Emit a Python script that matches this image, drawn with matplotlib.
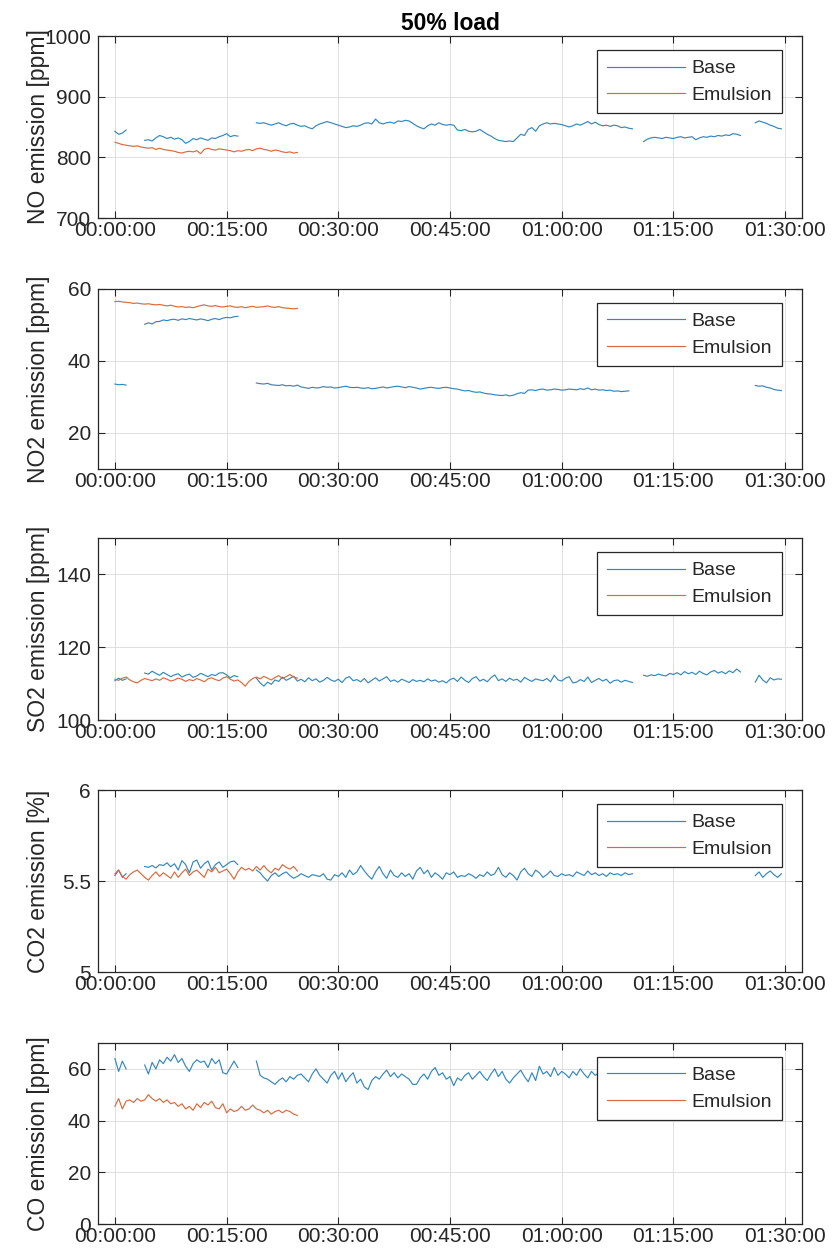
import numpy as np
import matplotlib
matplotlib.use("Agg")
import matplotlib.pyplot as plt

plt.rcParams['font.family'] = ['Liberation Sans', 'DejaVu Sans']

# time step of the logged data, minutes
DT = 0.5

# tick positions (minutes) and labels
xticks = [0, 15, 30, 45, 60, 75, 90]
xlabels = ['00:00:00', '00:15:00', '00:30:00', '00:45:00', '01:00:00', '01:15:00', '01:30:00']

# ---- NO [ppm] ----
no_base = [
    (0.0, [843, 838, 840, 845]),
    (4.0, [828, 829, 827, 832, 836, 834, 831, 833, 830, 832, 829, 823, 826, 831, 829, 832,
           830, 828, 832, 831, 834, 836, 839, 834, 836, 835]),
    (19.0, [857, 856, 857, 855, 853, 855, 857, 854, 852, 855, 856, 853, 851, 852, 849, 847,
            852, 855, 857, 859, 857, 855, 853, 851, 849, 850, 852, 851, 853, 856, 857, 855,
            863, 857, 855, 857, 858, 856, 860, 859, 861, 860, 856, 852, 849, 847, 852, 855,
            853, 857, 854, 853, 854, 853, 845, 844, 846, 843, 842, 843, 846, 842, 838, 835,
            831, 828, 827, 826, 827, 826, 832, 838, 836, 846, 849, 843, 852, 855, 857, 855,
            856, 855, 854, 852, 850, 852, 855, 853, 856, 859, 855, 858, 854, 852, 853, 851,
            853, 852, 849, 850, 848, 847]),
    (71.0, [826, 830, 832, 833, 832, 831, 833, 832, 831, 833, 834, 832, 833, 834, 829, 832,
            834, 833, 835, 834, 836, 835, 837, 836, 839, 838, 836]),
    (86.0, [857, 860, 858, 856, 853, 851, 848, 847]),
]
no_emul = [
    (0.0, [825, 823, 821, 820, 819, 818, 819, 817, 816, 815, 816, 813, 815, 813, 812, 811,
           810, 808, 807, 809, 810, 809, 811, 806, 813, 815, 813, 812, 814, 813, 812, 811,
           809, 811, 810, 812, 813, 811, 814, 815, 813, 812, 810, 812, 811, 809, 808, 809,
           807, 808]),
]

# ---- NO2 [ppm] ----
no2_base = [
    (0.0, [33.6, 33.4, 33.5, 33.3]),
    (4.0, [50.2, 50.6, 50.3, 50.9, 51.0, 51.4, 51.2, 51.5, 51.6, 51.3, 51.7, 51.5, 51.8,
           51.6, 51.4, 51.7, 51.5, 51.2, 51.6, 51.8, 51.5, 51.9, 52.1, 52.0, 52.3, 52.4]),
    (19.0, [33.9, 33.7, 33.6, 33.8, 33.4, 33.3, 33.2, 33.4, 33.1, 33.2, 33.0, 33.3, 32.8,
            32.6, 32.4, 32.7, 32.5, 32.6, 32.9, 32.7, 32.8, 32.5, 32.6, 32.8, 33.0, 32.7,
            32.6, 32.7, 32.5, 32.4, 32.6, 32.3, 32.4, 32.6, 32.8, 32.5, 32.7, 32.9, 33.0,
            32.8, 32.6, 32.9, 32.7, 32.5, 32.2, 32.4, 32.6, 32.7, 32.5, 32.4, 32.6, 32.7,
            32.5, 32.3, 32.2, 31.9, 31.7, 31.8, 31.5, 31.3, 31.4, 31.1, 30.9, 30.8, 30.6,
            30.5, 30.4, 30.6, 30.3, 30.5, 30.9, 31.2, 31.0, 31.9, 32.0, 31.8, 32.1, 32.2,
            31.9, 32.0, 32.2, 32.1, 31.9, 32.0, 32.2, 32.1, 32.0, 32.3, 32.1, 32.5, 32.0,
            32.2, 31.9, 32.0, 31.8, 31.9, 31.6, 31.7, 31.5, 31.6, 31.7]),
    (86.0, [33.2, 33.0, 33.1, 32.7, 32.5, 32.1, 31.9, 31.8]),
]
no2_emul = [
    (0.0, [56.5, 56.6, 56.4, 56.3, 56.2, 56.0, 56.1, 55.9, 55.8, 55.9, 55.7, 55.6, 55.7,
           55.5, 55.3, 55.5, 55.2, 55.0, 55.1, 54.9, 55.0, 54.8, 55.1, 55.4, 55.6, 55.3,
           55.2, 55.4, 55.1, 55.0, 55.2, 55.3, 55.0, 54.9, 55.1, 54.8, 55.0, 55.2, 54.9,
           55.0, 55.1, 55.3, 55.0, 54.9, 55.1, 54.8, 54.7, 54.6, 54.5, 54.6]),
]

# ---- SO2 [ppm] ----
so2_base = [
    (0.0, [110.8, 111.5, 110.9, 111.3]),
    (4.0, [112.9, 112.6, 113.4, 112.8, 112.3, 113.1, 112.5, 111.9, 112.4, 112.7, 111.8,
           112.3, 112.6, 111.7, 112.1, 112.8, 112.4, 111.9, 112.5, 112.2, 112.9, 113.0,
           112.4, 111.6, 112.2, 111.9]),
    (19.0, [111.5, 110.2, 109.3, 110.4, 109.8, 111.0, 110.6, 111.8, 110.9, 111.4, 112.0,
            110.7, 111.2, 110.5, 111.6, 110.8, 111.3, 110.4, 110.9, 111.7, 111.0, 110.6,
            111.2, 110.3, 111.5, 111.9, 110.8, 111.1, 110.5, 111.4, 110.2, 110.9, 111.6,
            110.7, 111.3, 111.9, 110.6, 111.0, 110.4, 111.2, 110.8, 110.3, 111.1, 110.6,
            110.9, 110.5, 111.3, 110.7, 111.0, 110.4, 110.8, 110.2, 111.1, 111.5, 110.6,
            111.8, 110.9, 110.3, 111.4, 111.9, 110.7, 111.2, 110.5, 111.6, 112.4, 110.8,
            111.3, 110.6, 111.5, 110.9, 111.2, 110.4, 111.7, 111.1, 110.6, 111.3, 111.0,
            110.8, 111.4, 110.5, 112.3, 111.0, 110.7, 111.5, 111.9, 110.2, 110.4, 111.1,
            110.6, 111.8, 110.3, 110.9, 111.4, 110.7, 111.2, 110.1, 110.8, 111.0, 110.4,
            110.9, 110.6, 110.3]),
    (71.0, [112.3, 112.0, 112.4, 112.2, 112.6, 112.3, 112.1, 112.8, 112.5, 113.0, 112.4,
            113.3, 112.7, 113.1, 112.5, 113.4, 112.8, 112.4, 113.2, 113.6, 112.9, 113.3,
            112.7, 113.5, 113.0, 114.0, 113.2]),
    (86.0, [110.4, 112.3, 111.0, 110.2, 111.6, 111.0, 111.3, 111.2]),
]
so2_emul = [
    (0.0, [111.2, 110.9, 111.5, 111.8, 111.0, 110.5, 110.2, 110.9, 111.4, 111.1, 110.8,
           111.3, 110.9, 111.6, 111.2, 110.7, 111.0, 111.5, 111.2, 110.6, 111.1, 110.8,
           111.4, 111.0, 110.5, 111.3, 111.6, 111.1, 110.8, 111.5, 111.9, 111.2, 110.7,
           111.0, 110.3, 109.3, 110.6, 111.4, 111.8, 111.3, 112.0, 111.5, 111.0, 111.7,
           112.2, 111.4, 111.9, 112.5, 111.8, 111.5]),
]

# ---- CO2 [%] ----
co2_base = [
    (0.0, [5.53, 5.56, 5.52, 5.54]),
    (4.0, [5.580, 5.575, 5.585, 5.572, 5.590, 5.585, 5.600, 5.578, 5.595, 5.560, 5.612,
           5.590, 5.545, 5.605, 5.615, 5.570, 5.595, 5.610, 5.560, 5.590, 5.605, 5.575,
           5.590, 5.605, 5.610, 5.590]),
    (19.0, [5.560, 5.545, 5.520, 5.500, 5.530, 5.545, 5.525, 5.540, 5.550, 5.530, 5.515,
            5.525, 5.540, 5.530, 5.520, 5.535, 5.530, 5.525, 5.540, 5.510, 5.505, 5.535,
            5.525, 5.545, 5.520, 5.560, 5.535, 5.550, 5.585, 5.555, 5.530, 5.510, 5.550,
            5.580, 5.540, 5.515, 5.560, 5.530, 5.520, 5.545, 5.525, 5.540, 5.510, 5.555,
            5.575, 5.540, 5.560, 5.520, 5.545, 5.530, 5.510, 5.545, 5.535, 5.550, 5.520,
            5.530, 5.525, 5.540, 5.530, 5.515, 5.535, 5.525, 5.550, 5.530, 5.540, 5.575,
            5.535, 5.520, 5.545, 5.530, 5.505, 5.550, 5.570, 5.540, 5.525, 5.560, 5.545,
            5.520, 5.535, 5.555, 5.530, 5.525, 5.540, 5.530, 5.535, 5.525, 5.550, 5.540,
            5.530, 5.555, 5.535, 5.545, 5.530, 5.540, 5.525, 5.545, 5.535, 5.540, 5.530,
            5.545, 5.535, 5.540]),
    (86.0, [5.53, 5.55, 5.52, 5.54, 5.555, 5.535, 5.52, 5.54]),
]
co2_emul = [
    (0.0, [5.540, 5.560, 5.525, 5.510, 5.535, 5.550, 5.560, 5.540, 5.520, 5.505, 5.530,
           5.550, 5.525, 5.545, 5.530, 5.515, 5.550, 5.520, 5.545, 5.565, 5.530, 5.550,
           5.560, 5.540, 5.520, 5.565, 5.550, 5.575, 5.545, 5.555, 5.565, 5.540, 5.510,
           5.550, 5.575, 5.560, 5.570, 5.555, 5.580, 5.560, 5.585, 5.560, 5.545, 5.570,
           5.560, 5.590, 5.575, 5.565, 5.580, 5.555]),
]

# ---- CO [ppm] ----
co_base = [
    (0.0, [64.0, 59.0, 63.0, 60.0]),
    (4.0, [61.5, 58.0, 62.5, 60.0, 63.5, 62.0, 64.5, 63.0, 65.5, 62.5, 64.0, 61.0, 59.0,
           62.0, 63.5, 62.5, 63.0, 60.5, 64.0, 62.0, 63.5, 58.5, 58.0, 60.5, 63.0, 60.5]),
    (19.0, [63.0, 57.5, 56.5, 56.0, 55.0, 54.0, 55.5, 56.5, 55.0, 57.0, 56.0, 57.5, 58.0,
            56.5, 55.0, 58.0, 60.0, 57.5, 56.0, 54.5, 57.5, 59.0, 56.0, 58.5, 55.0, 57.0,
            58.5, 54.5, 56.0, 53.0, 52.0, 55.5, 57.0, 56.0, 58.0, 59.5, 57.0, 58.5, 56.5,
            58.0, 57.0, 56.0, 54.0, 54.0, 56.5, 58.0, 56.0, 59.0, 60.5, 57.5, 58.5, 56.0,
            57.0, 53.5, 56.5, 55.5, 57.5, 58.5, 56.0, 57.5, 59.0, 57.0, 55.5, 58.0, 60.0,
            57.0, 59.0, 56.0, 54.5, 56.5, 58.0, 59.5, 57.0, 55.0, 58.5, 55.5, 61.0, 58.0,
            59.0, 57.0, 60.5, 57.5, 59.0, 58.0, 56.5, 59.0, 57.5, 60.0, 58.0, 56.5, 59.0,
            57.5, 58.5, 57.0, 59.5, 58.0, 57.0, 58.5, 57.5, 58.0, 57.0, 58.5]),
    (71.0, [57.5, 58.5, 57.0, 58.0, 59.0, 57.5, 58.0, 57.0, 58.5, 59.0, 57.5, 58.0, 58.5,
            57.0, 58.0, 59.0, 58.5, 57.5, 58.0, 58.5, 57.5, 59.0, 58.0, 57.5, 58.5, 58.0,
            57.5]),
    (86.0, [58.0, 59.0, 57.5, 58.5, 58.0, 59.5, 58.0, 58.5]),
]
co_emul = [
    (0.0, [45.5, 48.5, 44.5, 47.5, 48.0, 47.0, 48.5, 47.5, 48.0, 50.0, 48.5, 47.5, 48.5,
           47.0, 48.0, 46.5, 47.0, 45.5, 46.5, 44.5, 45.5, 44.0, 46.5, 45.0, 47.0, 46.0,
           47.5, 45.0, 44.5, 46.5, 43.0, 44.5, 43.5, 44.0, 45.5, 44.0, 44.5, 46.0, 44.5,
           44.0, 43.0, 44.0, 42.5, 43.5, 44.0, 43.0, 44.0, 43.5, 42.5, 42.0]),
]

ylabels = ['NO emission [ppm]', 'NO2 emission [ppm]', 'SO2 emission [ppm]',
           'CO2 emission [%]', 'CO emission [ppm]']
ylims = [(700, 1000), (10, 60), (100, 150), (5, 6), (0, 70)]
yticks = [[700, 800, 900, 1000], [20, 40, 60], [100, 120, 140], [5, 5.5, 6], [0, 20, 40, 60]]
series = [(no_base, no_emul), (no2_base, no2_emul), (so2_base, so2_emul),
          (co2_base, co2_emul), (co_base, co_emul)]

BLUE = '#3387c0'
ORANGE = '#d96a3c'
TXT = '#262626'


def join_segments(segs):
    """Concatenate logged segments, NaN between them so the line breaks."""
    ts, ys = [], []
    for start, vals in segs:
        ts.extend(start + DT * np.arange(len(vals)))
        ys.extend(vals)
        ts.append(np.nan)
        ys.append(np.nan)
    return np.array(ts), np.array(ys)


W, H = 832, 1258
fig = plt.figure(figsize=(W / 100, H / 100), dpi=100)

# axes boxes in pixels: (top, bottom)
boxes = [(36, 218), (289, 469), (538, 720), (790, 972), (1043, 1224)]
left_px, right_px = 98, 802

for i, (top, bot) in enumerate(boxes):
    ax = fig.add_axes([left_px / W, 1 - bot / H, (right_px - left_px) / W, (bot - top) / H])
    base, emul = series[i]
    tb, yb = join_segments(base)
    te, ye = join_segments(emul)
    ax.plot(tb, yb, color=BLUE, lw=0.85, label='Base')
    ax.plot(te, ye, color=ORANGE, lw=0.85, label='Emulsion')

    ax.set_xlim(-2.27, 92.27)
    ax.set_ylim(*ylims[i])
    ax.set_xticks(xticks)
    ax.set_xticklabels(xlabels)
    ax.set_yticks(yticks[i])
    ax.set_yticklabels([f'{v:g}' for v in yticks[i]])
    ax.grid(True, color='#dedede', lw=0.7)
    ax.set_axisbelow(True)
    ax.tick_params(direction='in', length=5, width=0.8, colors=TXT, labelsize=15,
                   top=True, right=True)
    ax.tick_params(axis='x', pad=2)
    ax.tick_params(axis='y', pad=5)
    for sp in ax.spines.values():
        sp.set_color(TXT)
        sp.set_linewidth(0.9)
    ax.set_ylabel(ylabels[i], fontsize=16.5, color=TXT)
    ax.yaxis.set_label_coords(-0.068, 0.5)

    leg = ax.legend(loc='upper right', bbox_to_anchor=(0.9716, 0.923), borderaxespad=0,
                    fontsize=14, handlelength=4.0, fancybox=False, framealpha=1,
                    edgecolor=TXT, borderpad=0.5, labelspacing=0.45, handletextpad=0.36)
    leg.get_frame().set_linewidth(0.9)
    for txt in leg.get_texts():
        txt.set_color(TXT)
    if i == 0:
        ax.set_title('50% load', fontsize=16.5, fontweight='bold', color='black', pad=4)

fig.savefig('out.png', dpi=100)
